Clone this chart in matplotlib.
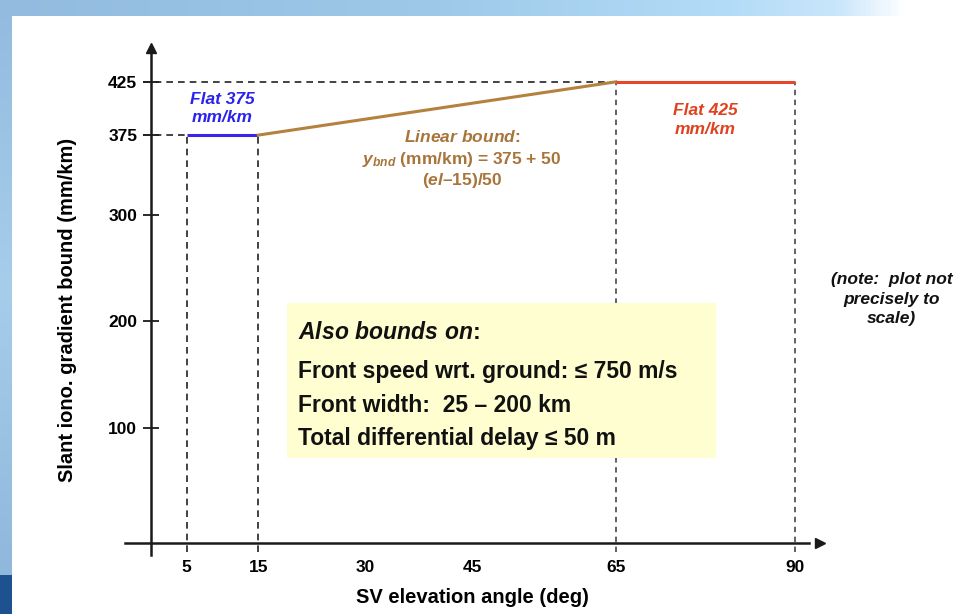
import numpy as np
import matplotlib.pyplot as plt
from matplotlib.patches import Rectangle
from matplotlib.colors import LinearSegmentedColormap

plt.rcParams['font.family'] = ['Liberation Sans', 'DejaVu Sans']
plt.rcParams['font.weight'] = 'bold'
plt.rcParams['mathtext.fontset'] = 'custom'
plt.rcParams['mathtext.it'] = 'Liberation Sans:bold:italic'
plt.rcParams['mathtext.rm'] = 'Liberation Sans:bold'
plt.rcParams['mathtext.default'] = 'it'

# bound pieces: elevation (deg) vs gradient bound (mm/km)
flat_lo_x = [5, 15]
flat_lo_y = [375, 375]
linear_x = [15, 65]
linear_y = [375, 425]
flat_hi_x = [65, 90]
flat_hi_y = [425, 425]

xtick_vals = [5, 15, 30, 45, 65, 90]
xtick_marks = [30, 45]
ytick_vals = [100, 200, 300, 375, 425]

box_lines = ["Front speed wrt. ground: \u2264 750 m/s",
             "Front width:  25 \u2013 200 km",
             "Total differential delay \u2264 50 m"]

c_blue = '#3b25e8'
c_brown = '#b5823e'
c_red = '#e8462a'
c_axis = '#1a1a1a'

fig = plt.figure(figsize=(9.77, 6.14), dpi=100)

# slide background bands
bg = fig.add_axes([0, 0, 1, 1], zorder=-5)
bg.set_xlim(0, 977)
bg.set_ylim(614, 0)
bg.axis('off')
top_cmap = LinearSegmentedColormap.from_list(
    'top', [(0, '#92bbdf'), (0.45, '#9ec9e8'), (0.75, '#b3dcf8'), (0.86, '#c9e6fb'), (0.93, '#ffffff'), (1, '#ffffff')])
bg.imshow(np.linspace(0, 1, 300)[None, :], cmap=top_cmap, aspect='auto', extent=[0, 977, 16, 0])
left_cmap = LinearSegmentedColormap.from_list('left', ['#92bbdf', '#a6cdea', '#8fb8dc'])
bg.imshow(np.linspace(0, 1, 200)[:, None], cmap=left_cmap, aspect='auto', extent=[0, 12, 575, 0])
bg.add_patch(Rectangle((0, 575), 12, 39, color='#1d5190', lw=0))

ax = fig.add_axes([0.118, 0.0948, 0.7684, 0.8326])
ax.set_xlim(-5, 100)
ax.set_ylim(-20, 460)
ax.patch.set_alpha(0)

for s in ['top', 'right']:
    ax.spines[s].set_visible(False)
ax.spines['left'].set_position(('data', 0))
ax.spines['bottom'].set_position(('data', -8))
ax.spines['left'].set_bounds(-19, 452)
ax.spines['bottom'].set_bounds(-3.6, 92)
for s in ['left', 'bottom']:
    ax.spines[s].set_linewidth(1.8)
    ax.spines[s].set_color(c_axis)
ax.plot([0], [457], marker='^', ms=7, color=c_axis, clip_on=False)
ax.plot([93.6], [-8], marker='>', ms=7, color=c_axis, clip_on=False)

ax.set_yticks(ytick_vals)
ax.set_yticklabels([str(v) for v in ytick_vals])
ax.tick_params(axis='y', direction='inout', length=12, width=1.3, color=c_axis,
               labelsize=12.5, pad=4)
ax.set_xticks(xtick_vals)
ax.set_xticklabels([str(v) for v in xtick_vals])
ax.set_xticks(xtick_marks, minor=True)
ax.tick_params(axis='x', which='major', length=0, labelsize=12.5, pad=12)
ax.tick_params(axis='x', which='minor', direction='inout', length=12, width=1.3, color=c_axis)

# dashed guide lines
ax.plot([-1.1, linear_x[1]], [flat_hi_y[0]] * 2, ls=(0, (4, 3)), color='#222222', lw=1.2)
ax.plot([-1.1, flat_lo_x[0]], [flat_lo_y[0]] * 2, ls=(0, (4, 3)), color='#222222', lw=1.2)
for xv in flat_lo_x:
    ax.plot([xv, xv], [-16, flat_lo_y[0]], ls=(0, (4, 3)), color='#222222', lw=1.2)
for xv in flat_hi_x:
    ax.plot([xv, xv], [-16, flat_hi_y[0]], ls=(0, (3, 2.5)), color='#555555', lw=1.3)

# bound segments
ax.plot(flat_lo_x, flat_lo_y, color=c_blue, lw=2.2, solid_capstyle='butt', zorder=4)
ax.plot(linear_x, linear_y, color=c_brown, lw=2.2, zorder=4)
ax.plot(flat_hi_x, flat_hi_y, color=c_red, lw=2.2, solid_capstyle='butt', zorder=4)

ax.text(9.9, 400, "Flat 375\nmm/km", color='#2a22ee', fontsize=12.5, style='italic',
        ha='center', va='center', linespacing=1.25)
ax.text(77.5, 389, "Flat 425\nmm/km", color='#e0421f', fontsize=12.5, style='italic',
        ha='center', va='center', linespacing=1.35)
ax.text(43.5, 373.5, r"$Linear\ bound$:", color='#a8743a', fontsize=12.5, ha='center', va='center')
ax.text(43.5, 352.5, r"$y_{bnd}$ (mm/km) = 375 + 50", color='#a8743a', fontsize=12.5,
        ha='center', va='center')
ax.text(43.5, 332, "($el$\u201315)/50", color='#a8743a', fontsize=12.5, ha='center', va='center')

ax.text(103.6, 221, "(note:  plot not\nprecisely to\nscale)", color='#111111', fontsize=12.5,
        style='italic', ha='center', va='center', linespacing=1.38, clip_on=False)

# yellow info box
ax.add_patch(Rectangle((19.0, 71.8), 60.0, 145.6, facecolor='#fefed0', edgecolor='none', zorder=3))
ax.text(20.6, 190, r"$Also\ bounds\ on$:", fontsize=16.5, color='#111111', va='center', zorder=5)
for yv, line in zip([152.6, 120.7, 90.6], box_lines):
    ax.text(20.6, yv, line, fontsize=16.5, color='#111111', va='center', zorder=5)

ax.text(45, -58.7, "SV elevation angle (deg)", fontsize=14.5, ha='center', va='center',
        clip_on=False)
ax.text(-11.75, 211, "Slant iono. gradient bound (mm/km)", fontsize=14.5, rotation=90,
        ha='center', va='center', clip_on=False)

fig.savefig('out.png', dpi=100)
